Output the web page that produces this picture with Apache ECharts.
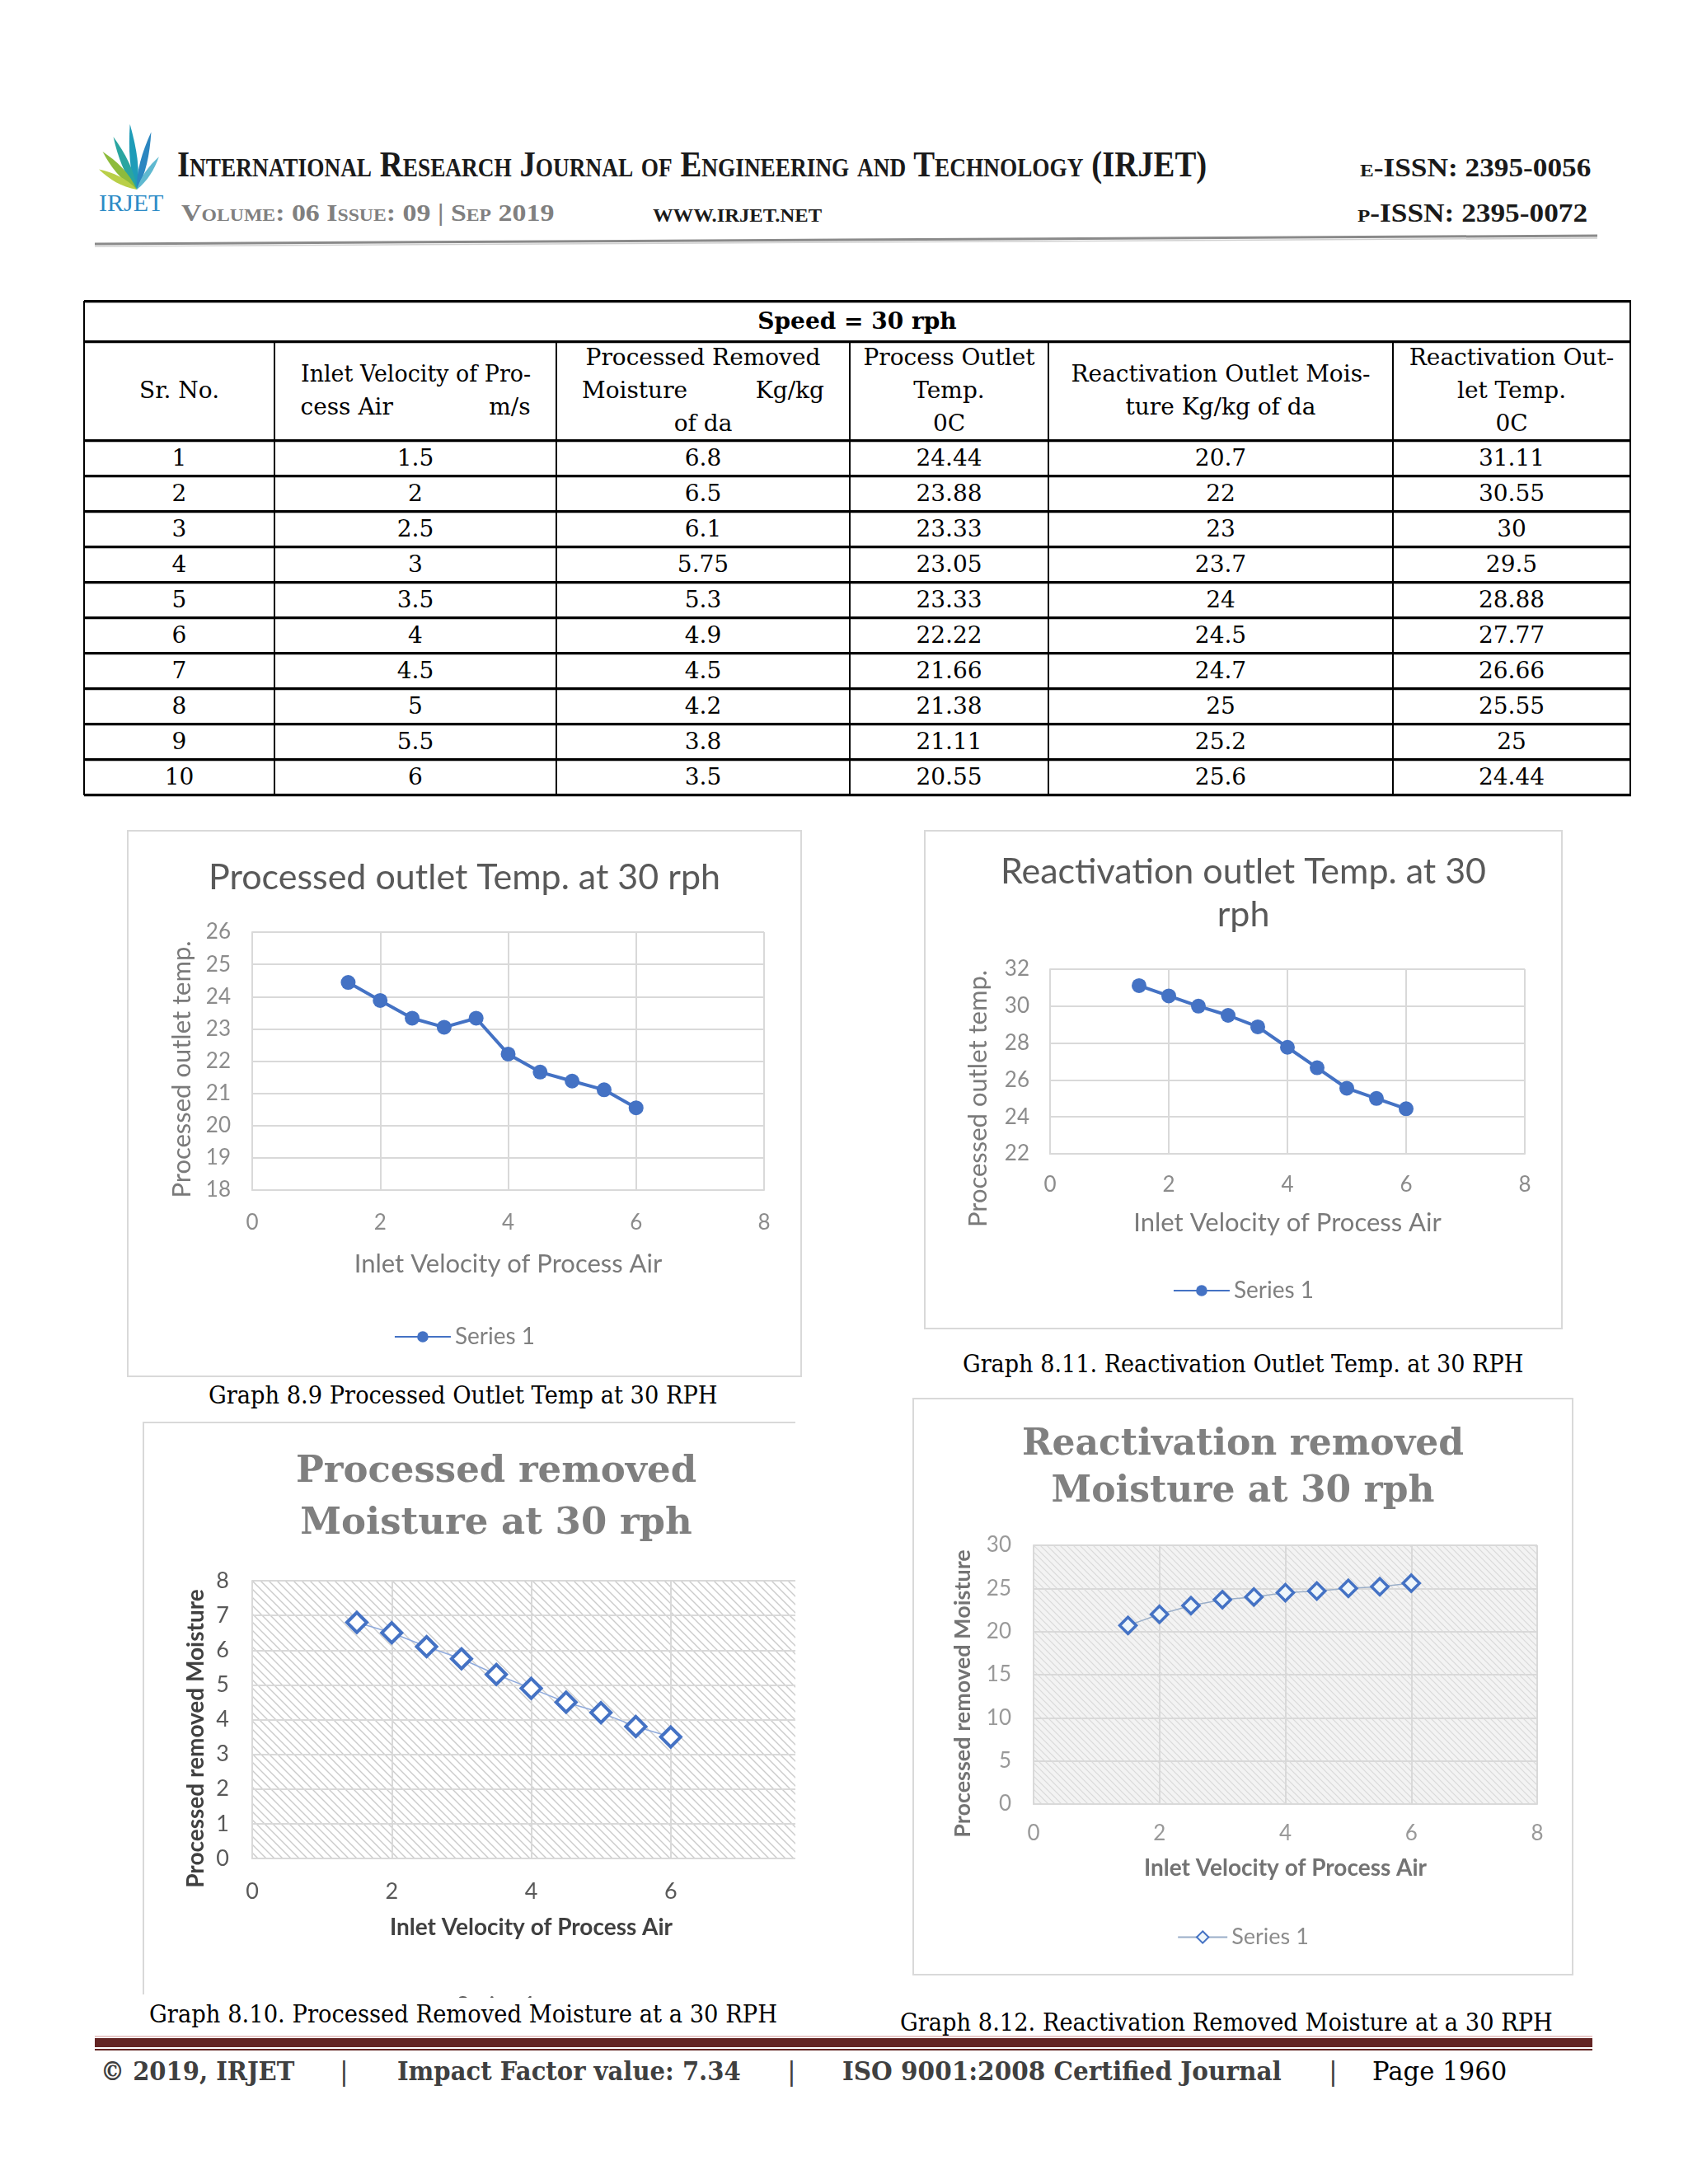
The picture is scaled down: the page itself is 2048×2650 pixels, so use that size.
<!DOCTYPE html>
<html>
<head>
<meta charset="utf-8">
<script src="https://cdn.jsdelivr.net/npm/echarts@6/dist/echarts.min.js"></script>
<style>
html,body{margin:0;padding:0;background:#fff;}
#page{position:relative;width:2048px;height:2650px;overflow:hidden;background:#fff;}
.abs{position:absolute;}
.fit{position:absolute;white-space:nowrap;transform-origin:0 50%;}
.fitin{display:inline-block;white-space:nowrap;transform-origin:0 50%;}
.hl{position:absolute;background:#000;}
.cell{position:absolute;display:flex;flex-direction:column;justify-content:center;align-items:center;font-family:'DejaVu Serif';font-size:28px;color:#000;line-height:40px;}
.blk{display:flex;flex-direction:column;}
.sb{display:flex;justify-content:space-between;white-space:nowrap;}
.ctr{text-align:center;white-space:nowrap;}
.chart{position:absolute;}
.box{position:absolute;border:2px solid #d9d9d9;box-sizing:border-box;pointer-events:none;}
</style>
</head>
<body>
<div id="page">
  <!-- logo -->
  <svg class="abs" style="left:108px;top:140px" width="120" height="125" viewBox="0 0 120 125">
    <g transform="translate(58,90)">
      <path d="M0,0 C-7,-22 -5,-50 0,-80 C5,-50 7,-22 0,0Z" fill="#1e9cb8" transform="rotate(-6)"/>
      <path d="M0,0 C-7,-22 -5,-45 0,-70 C5,-45 7,-22 0,0Z" fill="#2aa5a0" transform="rotate(-24)"/>
      <path d="M0,0 C-7,-22 -5,-42 0,-62 C5,-42 7,-22 0,0Z" fill="#8dbb3c" transform="rotate(-42)"/>
      <path d="M0,0 C-6,-18 -5,-35 0,-52 C5,-35 6,-18 0,0Z" fill="#b9cf48" transform="rotate(-62)"/>
      <path d="M0,0 C-6,-20 -5,-45 0,-72 C5,-45 6,-20 0,0Z" fill="#2b86c0" transform="rotate(14)"/>
      <path d="M0,0 C-5,-16 -4,-32 0,-48 C4,-32 5,-16 0,0Z" fill="#5fb9d0" transform="rotate(34)"/>
    </g>
    <text x="12" y="116" font-family="Liberation Serif" font-size="30" fill="#2d8bc6">IRJET</text>
  </svg>

  <!-- header texts -->
  <div class="fit" data-w="1249" style="left:215px;top:178px;font:bold 44px/44px 'Liberation Serif';font-variant:small-caps;color:#1a1a1a;">International Research Journal of Engineering and Technology (IRJET)</div>
  <div class="fit" data-w="280" style="left:1650px;top:188px;font:bold 31px/31px 'Liberation Serif';font-variant:small-caps;color:#1a1a1a;">e-ISSN: 2395-0056</div>
  <div class="fit" data-w="452" style="left:220px;top:243px;font:bold 30px/30px 'Liberation Serif';font-variant:small-caps;color:#808080;">Volume: 06 Issue: 09 | Sep 2019</div>
  <div class="fit" data-w="205" style="left:792px;top:249px;font:bold 24px/24px 'Liberation Serif';color:#1a1a1a;">WWW.IRJET.NET</div>
  <div class="fit" data-w="279" style="left:1647px;top:243px;font:bold 31px/31px 'Liberation Serif';font-variant:small-caps;color:#1a1a1a;">p-ISSN: 2395-0072</div>
  <svg class="abs" style="left:0;top:0" width="2048" height="320">
    <line x1="115" y1="296" x2="1938" y2="286" stroke="#8a8a8a" stroke-width="3"/>
    <line x1="115" y1="299" x2="1938" y2="289" stroke="#d0d0d0" stroke-width="1.5"/>
  </svg>

  <!-- table -->
  <div id="table"></div>

  <!-- charts -->
  <div id="c1" class="chart" style="left:154px;top:1007px;width:819px;height:664px;"></div>
  <div class="box" style="left:154px;top:1007px;width:819px;height:664px;"></div>
  <div class="fit" data-w="618" style="left:253px;top:1675px;font:30px/36px 'DejaVu Serif';color:#000;">Graph 8.9 Processed Outlet Temp at 30 RPH</div>

  <div id="c2" class="chart" style="left:1121px;top:1007px;width:775px;height:606px;"></div>
  <div class="box" style="left:1121px;top:1007px;width:775px;height:606px;"></div>
  <div class="fit" data-w="680" style="left:1168px;top:1637px;font:30px/36px 'DejaVu Serif';color:#000;">Graph 8.11. Reactivation Outlet Temp. at 30 RPH</div>

  <div id="c3" class="chart" style="left:173px;top:1725px;width:792px;height:699px;overflow:hidden;"></div>
  <div class="abs" style="left:173px;top:1725px;width:792px;height:2px;background:#d9d9d9;"></div>
  <div class="abs" style="left:173px;top:1725px;width:2px;height:695px;background:#d9d9d9;"></div>
  <div class="abs" style="left:150px;top:2428px;width:830px;height:40px;background:#fff;"></div>
  <div class="fit" data-w="762" style="left:181px;top:2426px;font:30px/36px 'DejaVu Serif';color:#000;">Graph 8.10. Processed Removed Moisture at a 30 RPH</div>

  <div id="c4" class="chart" style="left:1107px;top:1696px;width:802px;height:701px;"></div>
  <div class="box" style="left:1107px;top:1696px;width:802px;height:701px;"></div>
  <div class="fit" data-w="792" style="left:1092px;top:2436px;font:30px/36px 'DejaVu Serif';color:#000;">Graph 8.12. Reactivation Removed Moisture at a 30 RPH</div>

  <!-- footer -->
  <div class="abs" style="left:115px;top:2470px;width:1817px;height:2px;background:#e9c9c9;"></div>
  <div class="abs" style="left:115px;top:2473px;width:1817px;height:11px;background:#632423;"></div>
  <div class="abs" style="left:115px;top:2486px;width:1817px;height:2px;background:#632423;"></div>
  <div class="fit" data-w="235" style="left:122px;top:2495px;font:bold 32px/36px 'DejaVu Serif';color:#404040;">© 2019, IRJET</div>
  <div class="fit" style="left:412px;top:2495px;font:32px/36px 'DejaVu Serif';color:#404040;">|</div>
  <div class="fit" data-w="417" style="left:482px;top:2495px;font:bold 32px/36px 'DejaVu Serif';color:#404040;">Impact Factor value: 7.34</div>
  <div class="fit" style="left:955px;top:2495px;font:32px/36px 'DejaVu Serif';color:#404040;">|</div>
  <div class="fit" data-w="533" style="left:1022px;top:2495px;font:bold 32px/36px 'DejaVu Serif';color:#404040;">ISO 9001:2008 Certified Journal</div>
  <div class="fit" style="left:1612px;top:2495px;font:32px/36px 'DejaVu Serif';color:#404040;">|</div>
  <div class="fit" data-w="163" style="left:1665px;top:2495px;font:32px/36px 'DejaVu Serif';color:#000;">Page 1960</div>
</div>

<script>
// ---------------- data ----------------
const srNo = [1, 2, 3, 4, 5, 6, 7, 8, 9, 10];
const inletVelocity = [1.5, 2, 2.5, 3, 3.5, 4, 4.5, 5, 5.5, 6];
const processedRemovedMoisture = [6.8, 6.5, 6.1, 5.75, 5.3, 4.9, 4.5, 4.2, 3.8, 3.5];
const processOutletTemp = [24.44, 23.88, 23.33, 23.05, 23.33, 22.22, 21.66, 21.38, 21.11, 20.55];
const reactivationOutletMoisture = [20.7, 22, 23, 23.7, 24, 24.5, 24.7, 25, 25.2, 25.6];
const reactivationOutletTemp = [31.11, 30.55, 30, 29.5, 28.88, 27.77, 26.66, 25.55, 25, 24.44];
const tableTitle = 'Speed = 30 rph';
const seriesName = 'Series 1';
const xAxisName = 'Inlet Velocity of Process Air';

// ---------------- table layout ----------------
const colX = [102, 333, 675, 1031, 1272, 1690, 1978];
const rowY = [365, 414, 534];
for (let i = 1; i <= 10; i++) rowY.push(534 + i * 43);

const tbl = document.getElementById('table');
function addDiv(cls, style, html) {
  const d = document.createElement('div');
  d.className = cls; d.setAttribute('style', style);
  if (html != null) d.innerHTML = html;
  tbl.appendChild(d); return d;
}
const left = colX[0], right = colX[colX.length - 1], bottom = rowY[rowY.length - 1];
rowY.forEach(y => addDiv('hl', `left:${left}px;top:${y - 1}px;width:${right - left + 1}px;height:3px;`));
rowY.forEach(y => addDiv('hl', `left:${left}px;top:${y + 2}px;width:${right - left + 1}px;height:1px;background:#bdbdbd;`));
addDiv('hl', `left:${left - 1}px;top:${rowY[0]}px;width:2px;height:${bottom - rowY[0] + 1}px;`);
addDiv('hl', `left:${right - 1}px;top:${rowY[0]}px;width:2px;height:${bottom - rowY[0] + 1}px;`);
for (let c = 1; c < colX.length - 1; c++)
  addDiv('hl', `left:${colX[c] - 1}px;top:${rowY[1]}px;width:1.5px;height:${bottom - rowY[1]}px;`);

function cell(c0, c1, r, html, extra) {
  addDiv('cell', `left:${colX[c0]}px;top:${rowY[r]}px;width:${colX[c1] - colX[c0]}px;height:${rowY[r + 1] - rowY[r]}px;${extra || ''}`, html);
}
cell(0, 6, 0, tableTitle, 'font-weight:bold;');
const headers = [
  'Sr. No.',
  '<div class="blk" style="width:279px"><div style="height:40px"><span class="fitin" data-w="279">Inlet Velocity of Pro-</span></div><div class="sb"><span>cess Air</span><span>m/s</span></div></div>',
  '<div class="blk" style="width:294px"><div class="ctr">Processed Removed</div><div class="sb"><span>Moisture</span><span>Kg/kg</span></div><div class="ctr">of da</div></div>',
  '<div class="ctr">Process Outlet</div><div class="ctr">Temp.</div><div class="ctr">0C</div>',
  '<div class="ctr">Reactivation Outlet Mois-</div><div class="ctr">ture Kg/kg of da</div>',
  '<div class="ctr">Reactivation Out-</div><div class="ctr">let Temp.</div><div class="ctr">0C</div>'
];
headers.forEach((h, c) => cell(c, c + 1, 1, h));
const cols = [srNo, inletVelocity, processedRemovedMoisture, processOutletTemp, reactivationOutletMoisture, reactivationOutletTemp];
for (let i = 0; i < srNo.length; i++)
  cols.forEach((arr, c) => cell(c, c + 1, 2 + i, String(arr[i])));

// ---------------- fit helper ----------------
function fitAll() {
  document.querySelectorAll('[data-w]').forEach(el => {
    el.style.transform = 'none';
    const w = el.offsetWidth, t = +el.dataset.w;
    if (w > 0) el.style.transform = 'scaleX(' + (t / w) + ')';
  });
}
fitAll();
if (document.fonts && document.fonts.ready) document.fonts.ready.then(fitAll);

// ---------------- hatch pattern ----------------
function hatch(size, color, bg, lw) {
  const c = document.createElement('canvas');
  c.width = size; c.height = size;
  const g = c.getContext('2d');
  if (bg) { g.fillStyle = bg; g.fillRect(0, 0, size, size); }
  g.strokeStyle = color; g.lineWidth = lw;
  g.beginPath();
  g.moveTo(-1, -1); g.lineTo(size + 1, size + 1);
  g.moveTo(-1, size - 1); g.lineTo(1, size + 1);
  g.moveTo(size - 1, -1); g.lineTo(size + 1, 1);
  g.stroke();
  return c;
}

// ---------------- chart helpers ----------------
function axis(o) {
  return {
    type: 'value', min: o.min, max: o.max, interval: o.interval,
    axisLine: { show: true, onZero: false, lineStyle: { color: o.lineColor || '#d9d9d9', width: 2 } },
    axisTick: { show: false },
    splitLine: { show: true, lineStyle: { color: o.gridColor || '#d9d9d9', width: 2 } },
    axisLabel: { show: true, color: o.labelColor, fontSize: o.labelSize, fontFamily: 'Lato', margin: o.margin, showMinLabel: true, showMaxLabel: true },
    name: o.name, nameLocation: 'middle', nameGap: o.nameGap, nameMoveOverlap: false,
    nameTextStyle: { color: o.nameColor, fontSize: o.nameSize, fontFamily: 'Lato', fontWeight: o.nameWeight || 'normal', padding: o.namePad || 0 }
  };
}
function pairs(ys) { return inletVelocity.map((v, i) => [v, ys[i]]); }

const xTick = { min: 0, max: 8, interval: 2 };

// Chart 1 : Processed outlet Temp
const c1 = echarts.init(document.getElementById('c1'));
c1.setOption({
  animation: false,
  title: { text: 'Processed outlet Temp. at 30 rph', left: 'center', top: 32,
    textStyle: { color: '#595959', fontSize: 43, fontFamily: 'Lato', fontWeight: 'normal' } },
  legend: { data: [seriesName], left: 'center', top: 596, itemWidth: 68, itemHeight: 17,
    textStyle: { color: '#808080', fontSize: 28, fontFamily: 'Lato' } },
  grid: { left: 152, top: 124, width: 621, height: 313, outerBoundsMode: 'none' },
  xAxis: axis(Object.assign({ labelColor: '#8c8c8c', labelSize: 26, margin: 27, name: xAxisName, nameGap: 74, nameColor: '#7a7a7a', nameSize: 31 }, xTick)),
  yAxis: axis({ min: 18, max: 26, interval: 1, labelColor: '#8c8c8c', labelSize: 26, margin: 26, name: 'Processed outlet temp.', nameGap: 70, nameColor: '#7a7a7a', nameSize: 31, namePad: [0, 20, 0, 0] }),
  series: [{ name: seriesName, type: 'line', data: pairs(processOutletTemp), symbol: 'circle', symbolSize: 18,
    lineStyle: { color: '#4472c4', width: 4 }, itemStyle: { color: '#4472c4' } }]
});

// Chart 2 : Reactivation outlet Temp
const c2 = echarts.init(document.getElementById('c2'));
c2.setOption({
  animation: false,
  title: { text: 'Reactivation outlet Temp. at 30\nrph', left: 'center', top: 20,
    textStyle: { color: '#595959', fontSize: 43, lineHeight: 52, fontFamily: 'Lato', fontWeight: 'normal' } },
  legend: { data: [seriesName], left: 'center', top: 540, itemWidth: 68, itemHeight: 17,
    textStyle: { color: '#808080', fontSize: 28, fontFamily: 'Lato' } },
  grid: { left: 153, top: 169, width: 576, height: 224, outerBoundsMode: 'none' },
  xAxis: axis(Object.assign({ labelColor: '#8c8c8c', labelSize: 26, margin: 25, name: xAxisName, nameGap: 68, nameColor: '#7a7a7a', nameSize: 31 }, xTick)),
  yAxis: axis({ min: 22, max: 32, interval: 2, labelColor: '#8c8c8c', labelSize: 26, margin: 25, name: 'Processed outlet temp.', nameGap: 72, nameColor: '#7a7a7a', nameSize: 31, namePad: [0, 90, 0, 0] }),
  series: [{ name: seriesName, type: 'line', data: pairs(reactivationOutletTemp), symbol: 'circle', symbolSize: 18,
    lineStyle: { color: '#4472c4', width: 4 }, itemStyle: { color: '#4472c4' } }]
});

// Chart 3 : Processed removed Moisture
const c3 = echarts.init(document.getElementById('c3'));
c3.setOption({
  animation: false,
  title: { text: 'Processed removed\nMoisture at 30 rph', left: 424, textAlign: 'center', top: 25,
    textStyle: { color: '#7f7f7f', fontSize: 45, lineHeight: 63, fontFamily: 'DejaVu Serif', fontWeight: 'bold' } },
  legend: { data: [seriesName], left: 'center', top: 690, itemWidth: 60, itemHeight: 18,
    textStyle: { color: '#595959', fontSize: 28, fontFamily: 'Lato' } },
  grid: { left: 133, top: 193, width: 677, height: 337, outerBoundsMode: 'none', show: true,
    backgroundColor: { image: hatch(10, '#cbcbcb', '#ffffff', 1.4), repeat: 'repeat' }, borderWidth: 0 },
  xAxis: axis(Object.assign({ labelColor: '#595959', labelSize: 27, margin: 27, name: xAxisName, nameGap: 70, nameColor: '#404040', nameSize: 28, nameWeight: 'bold' }, xTick)),
  yAxis: axis({ min: 0, max: 8, interval: 1, labelColor: '#595959', labelSize: 27, margin: 28, name: 'Processed removed Moisture', nameGap: 54, nameColor: '#404040', nameSize: 28, nameWeight: 'bold', namePad: [0, 46, 0, 0] }),
  series: [{ name: seriesName, type: 'line', data: pairs(processedRemovedMoisture), symbol: 'diamond', symbolSize: 24,
    lineStyle: { color: '#8faadc', width: 1.5 }, itemStyle: { color: '#ffffff', borderColor: '#4472c4', borderWidth: 4 } }]
});

// Chart 4 : Reactivation removed Moisture
const c4 = echarts.init(document.getElementById('c4'));
c4.setOption({
  animation: false,
  title: { text: 'Reactivation removed\nMoisture at 30 rph', left: 'center', top: 24,
    textStyle: { color: '#808080', fontSize: 44, lineHeight: 57, fontFamily: 'DejaVu Serif', fontWeight: 'bold' } },
  legend: { data: [seriesName], left: 'center', top: 636, itemWidth: 60, itemHeight: 18,
    textStyle: { color: '#8c8c8c', fontSize: 27, fontFamily: 'Lato' } },
  grid: { left: 147, top: 179, width: 611, height: 314, outerBoundsMode: 'none', show: true,
    backgroundColor: { image: hatch(8, '#d9d9d9', '#f3f3f3', 1.2), repeat: 'repeat' }, borderWidth: 0 },
  xAxis: axis(Object.assign({ labelColor: '#999999', labelSize: 26, margin: 23, name: xAxisName, nameGap: 64, nameColor: '#737373', nameSize: 28, nameWeight: 'bold' }, xTick)),
  yAxis: axis({ min: 0, max: 30, interval: 5, labelColor: '#999999', labelSize: 26, margin: 27, name: 'Processed removed Moisture', nameGap: 72, nameColor: '#737373', nameSize: 27, nameWeight: 'bold', namePad: [0, 46, 0, 0] }),
  series: [{ name: seriesName, type: 'line', data: pairs(reactivationOutletMoisture), symbol: 'diamond', symbolSize: 20,
    lineStyle: { color: '#9aaec8', width: 1.5 }, itemStyle: { color: '#eef6fb', borderColor: '#4472c4', borderWidth: 3.5 } }]
});
</script>
</body>
</html>
